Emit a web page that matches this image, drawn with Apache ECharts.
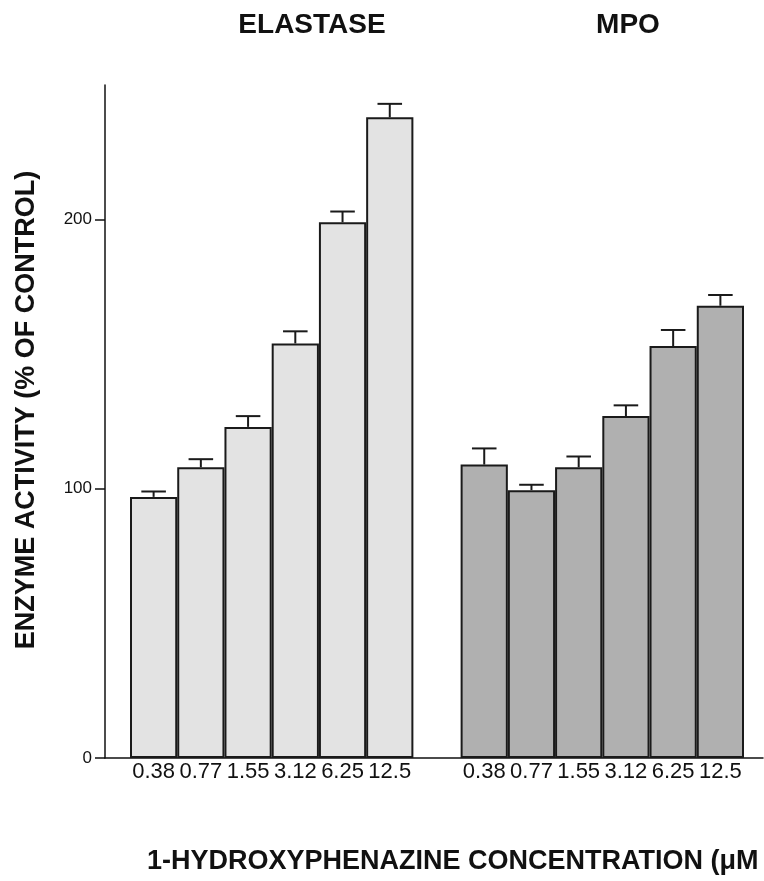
<!DOCTYPE html>
<html>
<head>
<meta charset="utf-8">
<script src="https://cdn.jsdelivr.net/npm/echarts@6/dist/echarts.min.js"></script>
<style>html,body{margin:0;padding:0;background:#fff;}#c{width:764px;height:881px;}</style>
</head>
<body>
<div id="c"></div>
<script>
// ---- data ----
const concentrations = ['0.38', '0.77', '1.55', '3.12', '6.25', '12.5'];
const elastase = [97, 108, 123, 154, 199, 238];
const elastaseSem = [2, 3, 4, 4.5, 4, 5];
const mpo = [109, 99.5, 108, 127, 153, 168];
const mpoSem = [6, 2, 4, 4, 6, 4];
const yTicks = [0, 100, 200];
const panelTitles = ['ELASTASE', 'MPO'];

// ---- build ----
const cats = concentrations.concat([''], concentrations);
const n = concentrations.length;
const elaData = cats.map((c, i) => i < n ? elastase[i] : '-');
const mpoData = cats.map((c, i) => i > n ? mpo[i - n - 1] : '-');
const errData = [];
elastase.forEach((v, i) => errData.push([i, v, v + elastaseSem[i]]));
mpo.forEach((v, i) => errData.push([i + n + 1, v, v + mpoSem[i]]));

const font = '"Liberation Sans", Arial, sans-serif';
const chart = echarts.init(document.getElementById('c'));
chart.setOption({
  animation: false,
  backgroundColor: '#ffffff',
  grid: [
    {left: 105, right: 1, top: 85, bottom: 123},
    {left: 130, right: 20, top: 85, bottom: 123}
  ],
  xAxis: [
    {gridIndex: 0, type: 'value', min: 0, max: 1,
     axisLine: {show: true, lineStyle: {color: '#111', width: 1.5}},
     axisTick: {show: false}, axisLabel: {show: false}, splitLine: {show: false}},
    {gridIndex: 1, type: 'category', data: cats, boundaryGap: true,
     axisLine: {show: false}, axisTick: {show: false}, splitLine: {show: false},
     axisLabel: {interval: 0, color: '#111', fontSize: 22, fontFamily: font, margin: 3}}
  ],
  yAxis: [
    {gridIndex: 0, type: 'value', min: 0, max: 250, interval: 50,
     axisLine: {show: true, lineStyle: {color: '#111', width: 1.5}},
     axisTick: {show: true, inside: false, length: 10, customValues: yTicks, lineStyle: {color: '#111', width: 1.5}},
     axisLabel: {color: '#111', fontSize: 17, fontFamily: font, margin: 13, customValues: yTicks},
     splitLine: {show: false}},
    {gridIndex: 1, type: 'value', min: 0, max: 250, show: false, splitLine: {show: false}}
  ],
  series: [
    {type: 'bar', xAxisIndex: 1, yAxisIndex: 1, data: elaData, barWidth: '100%', barGap: '-100%',
     itemStyle: {color: '#e3e3e3', borderColor: '#1a1a1a', borderWidth: 2}},
    {type: 'bar', xAxisIndex: 1, yAxisIndex: 1, data: mpoData, barWidth: '100%', barGap: '-100%',
     itemStyle: {color: '#b0b0b0', borderColor: '#1a1a1a', borderWidth: 2}},
    {type: 'custom', xAxisIndex: 1, yAxisIndex: 1, data: errData, z: 5,
     renderItem: function (params, api) {
       const x = api.value(0);
       const base = api.coord([x, api.value(1)]);
       const top = api.coord([x, api.value(2)]);
       const half = api.size([1, 0])[0] * 0.26;
       return {type: 'group', children: [
         {type: 'line', shape: {x1: base[0], y1: base[1], x2: top[0], y2: top[1]}, style: {stroke: '#1a1a1a', lineWidth: 2}},
         {type: 'line', shape: {x1: top[0] - half, y1: top[1], x2: top[0] + half, y2: top[1]}, style: {stroke: '#1a1a1a', lineWidth: 2}}
       ]};
     }}
  ],
  graphic: [
    {type: 'text', x: 312, y: 25, style: {text: panelTitles[0], align: 'center', verticalAlign: 'middle', font: 'bold 28px ' + font, fill: '#111'}},
    {type: 'text', x: 628, y: 25, style: {text: panelTitles[1], align: 'center', verticalAlign: 'middle', font: 'bold 28px ' + font, fill: '#111'}},
    {type: 'text', x: 27, y: 410, rotation: Math.PI / 2, style: {text: 'ENZYME ACTIVITY (% OF CONTROL)', align: 'center', verticalAlign: 'middle', font: 'bold 27px ' + font, fill: '#111'}},
    {type: 'text', x: 147, y: 862, style: {text: '1-HYDROXYPHENAZINE CONCENTRATION (\u03bcM', align: 'left', verticalAlign: 'middle', font: 'bold 27px ' + font, fill: '#111'}}
  ]
});
</script>
</body>
</html>
